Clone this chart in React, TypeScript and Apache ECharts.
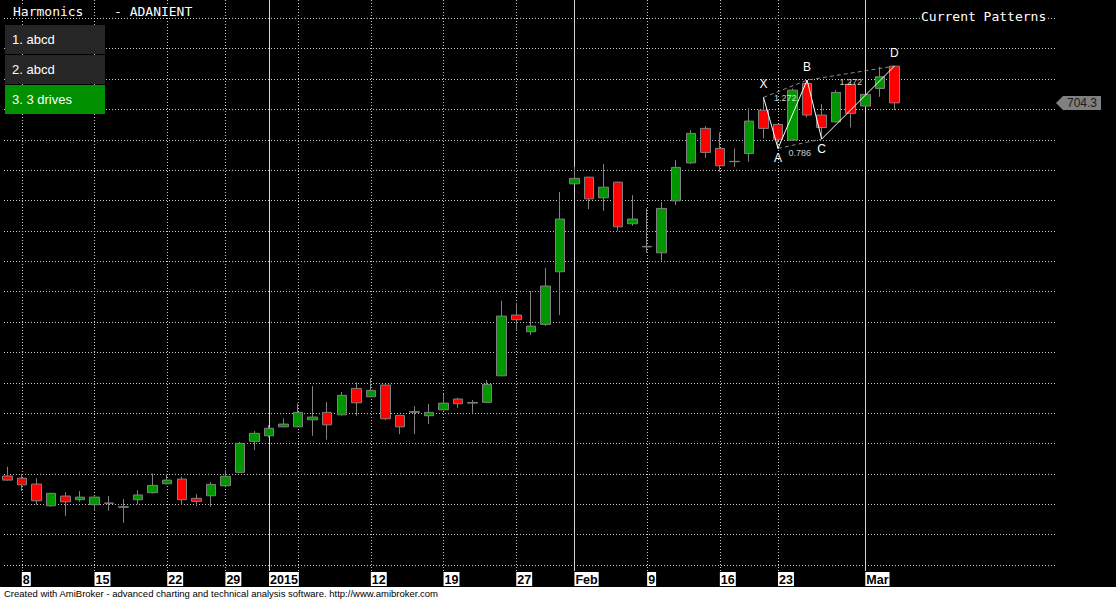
import React, { useEffect, useRef } from "react";
import * as echarts from "echarts";

// ---- Data (ADANIENT daily, Dec 2014 – Mar 2015) ----
const dates: string[] = [
  "2014-12-05", "2014-12-08", "2014-12-09", "2014-12-10", "2014-12-11", "2014-12-12",
  "2014-12-15", "2014-12-16", "2014-12-17", "2014-12-18", "2014-12-19",
  "2014-12-22", "2014-12-23", "2014-12-24", "2014-12-26",
  "2014-12-29", "2014-12-30", "2014-12-31", "2015-01-01", "2015-01-02",
  "2015-01-05", "2015-01-06", "2015-01-07", "2015-01-08", "2015-01-09",
  "2015-01-12", "2015-01-13", "2015-01-14", "2015-01-15", "2015-01-16",
  "2015-01-19", "2015-01-20", "2015-01-21", "2015-01-22", "2015-01-23",
  "2015-01-27", "2015-01-28", "2015-01-29", "2015-01-30",
  "2015-02-02", "2015-02-03", "2015-02-04", "2015-02-05", "2015-02-06",
  "2015-02-09", "2015-02-10", "2015-02-11", "2015-02-12", "2015-02-13",
  "2015-02-16", "2015-02-18", "2015-02-19", "2015-02-20",
  "2015-02-23", "2015-02-24", "2015-02-25", "2015-02-26", "2015-02-27", "2015-02-28",
  "2015-03-02", "2015-03-03", "2015-03-04",
];

const opens: number[] = [
  458.6, 457.2, 453.3, 439.0, 445.4, 443.0, 439.7, 440.8, 438.4, 443.0,
  447.6, 453.5, 456.6, 443.9, 445.6, 452.2, 461.0, 481.4, 485.1, 491.0,
  491.0, 495.6, 500.5, 498.9, 516.3, 510.8, 518.5, 498.5, 501.0, 498.3,
  502.2, 509.3, 507.0, 507.1, 524.6, 564.6, 553.6, 558.4, 593.1, 651.0,
  655.4, 641.8, 652.1, 624.7, 609.8, 605.6, 639.8, 664.8, 687.5, 674.3,
  665.8, 671.0, 699.5, 690.1, 679.8, 717.1, 696.3, 691.8, 716.5, 702.2,
  713.8, 728.5,
];
const closes: number[] = [
  455.9, 452.8, 442.3, 447.2, 441.6, 444.7, 444.7, 440.6, 438.0, 446.1,
  452.4, 455.9, 443.0, 441.9, 453.1, 458.4, 480.1, 486.7, 490.0, 492.8,
  500.5, 497.4, 492.3, 511.7, 506.8, 515.0, 496.3, 491.0, 500.6, 500.5,
  506.6, 506.2, 506.6, 518.9, 563.9, 561.5, 557.3, 583.7, 627.8, 654.6,
  641.1, 648.8, 622.7, 627.8, 609.5, 634.8, 661.8, 684.2, 671.7, 662.9,
  665.6, 692.3, 687.5, 680.3, 712.7, 696.3, 688.1, 711.2, 697.4, 709.9,
  721.5, 704.3,
];
const lows: number[] = [
  455.5, 448.9, 439.7, 438.3, 432.4, 441.6, 435.7, 435.7, 427.8, 439.9,
  447.2, 453.0, 439.7, 438.8, 438.4, 451.8, 460.5, 475.7, 484.0, 490.6,
  490.6, 485.1, 482.5, 498.5, 498.3, 510.5, 495.4, 486.2, 486.2, 492.8,
  501.8, 503.5, 500.3, 506.8, 524.3, 554.2, 551.4, 557.5, 564.6, 650.6,
  634.4, 633.2, 620.1, 623.4, 605.6, 600.3, 637.0, 664.0, 668.1, 658.9,
  662.2, 665.5, 680.9, 674.3, 679.5, 694.7, 680.5, 691.5, 688.1, 701.7,
  708.3, 699.5,
];
const highs: number[] = [
  464.7, 459.9, 457.2, 447.5, 448.0, 448.7, 445.0, 445.4, 443.4, 449.3,
  460.3, 459.9, 458.1, 446.7, 454.6, 462.5, 481.1, 488.2, 492.1, 496.5,
  506.4, 517.8, 507.3, 513.9, 520.2, 522.9, 518.8, 498.8, 504.6, 506.0,
  512.6, 510.1, 508.6, 521.8, 574.0, 572.7, 580.4, 595.7, 645.6, 662.2,
  655.7, 664.0, 652.4, 643.6, 634.8, 639.0, 666.6, 686.4, 689.0, 684.9,
  674.3, 700.7, 707.9, 690.4, 713.8, 719.3, 703.5, 712.7, 718.2, 710.2,
  728.1, 728.5,
];

// x-axis tick labels
const tickDates: string[] = [
  "2014-12-08", "2014-12-15", "2014-12-22", "2014-12-29", "2015-01-01",
  "2015-01-12", "2015-01-19", "2015-01-27", "2015-02-02", "2015-02-09",
  "2015-02-16", "2015-02-23", "2015-03-02",
];
const tickLabels: string[] = ["8", "15", "22", "29", "2015", "12", "19", "27", "Feb", "9", "16", "23", "Mar"];

// vertical grid lines
const weekLines: string[] = [
  "2014-12-08", "2014-12-15", "2014-12-22", "2014-12-29", "2015-01-05",
  "2015-01-12", "2015-01-19", "2015-01-27", "2015-02-09", "2015-02-16", "2015-02-23",
];
const monthLines: string[] = ["2015-01-01", "2015-02-02", "2015-03-02"];

// harmonic pattern (3 drives)
const patternNames: string[] = ["X", "A", "B", "C", "D"];
const patternDates: string[] = ["2015-02-20", "2015-02-23", "2015-02-25", "2015-02-26", "2015-03-04"];
const patternPrices: number[] = [707.9, 674.3, 719.3, 680.5, 728.5];
const patternLabelPos: string[] = ["top", "bottom", "top", "bottom", "top"];
const ratioTexts: string[] = ["1.272", "0.786", "1.272"];
const ratioPairs: number[][] = [[0, 2], [1, 3], [2, 4]];

const menuItems: string[] = ["1. abcd", "2. abcd", "3. 3 drives"];

const PAD = 11;

export default function App() {
  const ref = useRef<HTMLDivElement>(null);

  useEffect(() => {
    document.body.style.margin = "0";
    if (!ref.current) return;
    const chart = echarts.init(ref.current, null, { renderer: "svg" });

    const categories = [...dates, ...Array.from({ length: PAD }, (_, i) => `pad${i}`)];
    const band = 14.574;
    const gridLeft = 5 - band / 2;
    const gridWidth = categories.length * band;
    const idx = (d: string) => dates.indexOf(d);

    const tickMap: Record<number, string> = {};
    tickDates.forEach((d, i) => (tickMap[idx(d)] = tickLabels[i]));

    const candleData = dates.map((_, i) => [opens[i], closes[i], lows[i], highs[i]]);
    const pts = patternDates.map((d, i) => [idx(d), patternPrices[i]]);

    const gridColor = "#c8c8c8";

    const baseGraphic: any[] = [
      {
        id: "t1", type: "text", x: 13, y: 11, z: 100,
        style: { text: "Harmonics", fill: "#fff", fontSize: 13, fontFamily: "DejaVu Sans Mono", verticalAlign: "middle", backgroundColor: "#000" },
      },
      {
        id: "t2", type: "text", x: 114, y: 11, z: 100,
        style: { text: "- ADANIENT", fill: "#fff", fontSize: 13, fontFamily: "DejaVu Sans Mono", verticalAlign: "middle", backgroundColor: "#000" },
      },
      {
        id: "t3", type: "text", x: 921, y: 16, z: 100,
        style: { text: "Current Patterns", fill: "#fff", fontSize: 13, fontFamily: "DejaVu Sans Mono", verticalAlign: "middle", backgroundColor: "#000" },
      },
      ...menuItems.map((m, i) => ({
        id: "mb" + i, type: "rect", x: 5, y: 25 + i * 30, z: 100,
        shape: { width: 100, height: 29 },
        style: { fill: i === 2 ? "#009000" : "#262626" },
      })),
      ...menuItems.map((m, i) => ({
        id: "mt" + i, type: "text", x: 12, y: 25 + i * 30 + 14.5, z: 101,
        style: { text: m, fill: "#fff", fontSize: 13, fontFamily: "Liberation Sans", verticalAlign: "middle" },
      })),
      {
        id: "fbg", type: "rect", x: 0, y: 587, z: 100,
        shape: { width: 1116, height: 12 },
        style: { fill: "#fff" },
      },
      {
        id: "ftx", type: "text", x: 4, y: 593, z: 101,
        style: {
          text: "Created with AmiBroker - advanced charting and technical analysis software. http://www.amibroker.com",
          fill: "#000", fontSize: 9.5, fontFamily: "Liberation Sans", verticalAlign: "middle",
        },
      },
    ];

    const option: any = {
      animation: false,
      backgroundColor: "#000",
      grid: [
        { left: gridLeft, top: 0, width: gridWidth, height: 571 },
        { left: 4, top: 18.3, width: 1051, height: 546.7 },
      ],
      xAxis: [
        {
          type: "category", gridIndex: 0, data: categories, boundaryGap: true,
          axisLine: { show: false }, axisTick: { show: false }, splitLine: { show: false },
          axisLabel: {
            interval: (i: number) => tickMap[i] !== undefined,
            formatter: (_v: string, i: number) => tickMap[i] ?? "",
            align: "left", margin: 1, color: "#000", backgroundColor: "#fff",
            padding: [1, 1, 0, 1], fontSize: 12.5, lineHeight: 13, fontWeight: "bold",
            fontFamily: "Liberation Sans",
          },
        },
        { type: "value", gridIndex: 0, min: -0.5, max: categories.length - 0.5, show: false },
        { type: "value", gridIndex: 1, min: 0, max: 1, show: false },
      ],
      yAxis: [
        { type: "value", gridIndex: 0, min: 396.05, max: 772.05, show: false, splitLine: { show: false } },
        {
          type: "value", gridIndex: 1, min: 400, max: 760, interval: 20,
          axisLine: { show: false }, axisTick: { show: false }, axisLabel: { show: false },
          splitLine: { show: true, lineStyle: { color: gridColor, type: [1, 2], width: 1 } },
        },
      ],
      series: [
        {
          type: "line", xAxisIndex: 0, yAxisIndex: 0, data: [], z: 1, silent: true,
          markLine: {
            silent: true, symbol: ["none", "none"], label: { show: false }, z: 1,
            data: [
              ...weekLines.map((d) => ({ xAxis: idx(d), lineStyle: { color: gridColor, type: [1, 2], width: 1 } })),
              ...monthLines.map((d) => ({ xAxis: idx(d), lineStyle: { color: "#d4d4d4", type: "solid", width: 1 } })),
            ],
          },
        },
        {
          type: "candlestick", xAxisIndex: 0, yAxisIndex: 0, z: 3,
          data: candleData, barWidth: 10,
          itemStyle: {
            color: "#009600", color0: "#ff0000",
            borderColor: "#808080", borderColor0: "#808080", borderColorDoji: "#808080", borderWidth: 1,
          },
        },
        {
          type: "line", xAxisIndex: 1, yAxisIndex: 0, z: 5,
          data: [pts[0], pts[2], pts[4]], symbol: "none",
          lineStyle: { color: "#8a8a8a", width: 1, type: [4, 3] },
        },
        {
          type: "line", xAxisIndex: 1, yAxisIndex: 0, z: 5,
          data: [pts[1], pts[3]], symbol: "none",
          lineStyle: { color: "#8a8a8a", width: 1, type: [4, 3] },
        },
        {
          type: "line", xAxisIndex: 1, yAxisIndex: 0, z: 6,
          data: pts.map((p, i) => ({
            value: p,
            label: { position: patternLabelPos[i], distance: patternLabelPos[i] === "top" ? 7 : 3 },
          })),
          symbol: "circle", symbolSize: 1, showSymbol: true,
          itemStyle: { color: "rgba(0,0,0,0)" },
          lineStyle: { color: "#fff", width: 1 },
          label: {
            show: true, color: "#fff", fontSize: 12, fontFamily: "Liberation Sans",
            formatter: (p: any) => patternNames[p.dataIndex],
          },
        },
        {
          type: "scatter", xAxisIndex: 1, yAxisIndex: 0, z: 6,
          symbolSize: 1, itemStyle: { color: "rgba(0,0,0,0)" },
          data: ratioPairs.map(([a, b]) => [(pts[a][0] + pts[b][0]) / 2, (pts[a][1] + pts[b][1]) / 2]),
          label: {
            show: true, position: "bottom", distance: 4, color: "#fff", fontSize: 9, fontFamily: "Liberation Sans",
            formatter: (p: any) => ratioTexts[p.dataIndex],
          },
        },
      ],
      graphic: { elements: baseGraphic },
    };

    chart.setOption(option);

    const lastClose = closes[closes.length - 1];
    const py = chart.convertToPixel({ yAxisIndex: 0 } as any, lastClose) as number;
    chart.setOption({
      graphic: {
        elements: [
          ...baseGraphic,
          {
            id: "plbg", type: "polygon", z: 100,
            shape: { points: [[1056, py], [1063, py - 7], [1101, py - 7], [1101, py + 7], [1063, py + 7]] },
            style: { fill: "#808080" },
          },
          {
            id: "pltx", type: "text", x: 1082, y: py, z: 101,
            style: { text: lastClose.toFixed(1), fill: "#1a1a1a", fontSize: 12, fontFamily: "Liberation Sans", align: "center", verticalAlign: "middle" },
          },
        ],
      },
    });

    return () => chart.dispose();
  }, []);

  return <div ref={ref} style={{ width: 1116, height: 599 }} />;
}
